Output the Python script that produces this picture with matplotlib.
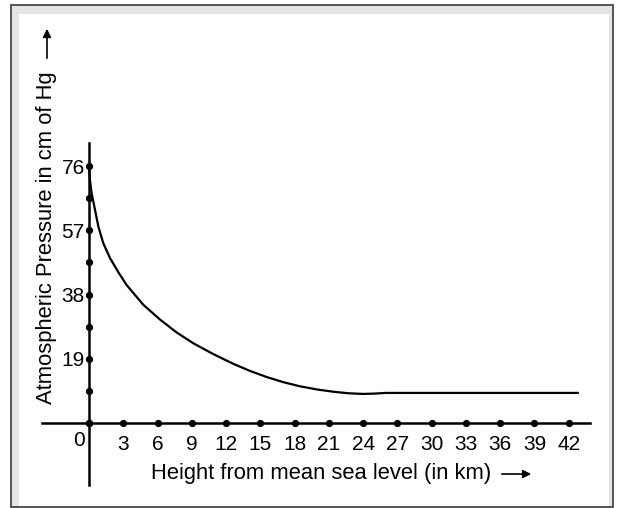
import matplotlib
matplotlib.use('Agg')
import matplotlib.pyplot as plt
from matplotlib.patches import Rectangle

# ---------------- data ----------------
height_km = [0, 0.08, 0.23, 0.53, 0.82, 1.25, 1.84, 2.57, 3.30, 4.75, 6.22,
             7.67, 9.13, 10.6, 11.18, 12.64, 14.1, 15.56, 17.0, 18.48, 20.0,
             21.4, 22.7, 24.0, 25.0, 26.0, 30.0, 36.0, 42.8]
pressure_cm = [76, 72, 68, 63, 58.1, 53.2, 48.8, 44.6, 40.8, 35.0, 30.6,
               26.8, 23.6, 20.9, 19.9, 17.5, 15.4, 13.6, 12.1, 10.85, 9.9,
               9.25, 8.8, 8.6, 8.7, 8.9, 8.9, 8.9, 8.9]

x_ticks = [3, 6, 9, 12, 15, 18, 21, 24, 27, 30, 33, 36, 39, 42]
y_ticks = [19, 38, 57, 76]
y_dots = [0, 9.5, 19, 28.5, 38, 47.5, 57, 66.5, 76]
x_dots = [0] + x_ticks

W, H = 619, 508
plt.rcParams['font.family'] = ['Liberation Sans', 'DejaVu Sans']

def fpx(x, y):
    # pixel position -> figure fraction
    return x / W, 1 - y / H

fig = plt.figure(figsize=(W / 100, H / 100), dpi=100)

# outer frame with the light grey band
fig.patches.append(Rectangle(fpx(11, 507), 602 / W, 502 / H, transform=fig.transFigure,
                             facecolor='#e4e4e4', edgecolor='#3a3a3a', linewidth=1.2,
                             zorder=-2))
fig.patches.append(Rectangle(fpx(19, 506), 590 / W, 492 / H, transform=fig.transFigure,
                             facecolor='white', edgecolor='none', zorder=-1))

ax = fig.add_axes([0, 0, 1, 1])
ax.patch.set_alpha(0)
sx, sy = 11.42, 3.38   # pixels per unit
ax.set_xlim(-89 / sx, (W - 89) / sx)
ax.set_ylim((423 - H) / sy, 423 / sy)

for s in ['top', 'right']:
    ax.spines[s].set_visible(False)
ax.spines['left'].set_position(('data', 0))
ax.spines['bottom'].set_position(('data', 0))
ax.spines['left'].set_bounds((423 - 485) / sy, (423 - 143) / sy)
ax.spines['bottom'].set_bounds((42 - 89) / sx, (590 - 89) / sx)
ax.spines['left'].set_linewidth(1.8)
ax.spines['bottom'].set_linewidth(1.8)

ax.set_xticks(x_ticks)
ax.set_xticklabels([str(v) for v in x_ticks])
ax.set_yticks(y_ticks)
ax.set_yticklabels([str(v) for v in y_ticks])
ax.tick_params(axis='x', length=0, pad=9, labelsize=15)
ax.tick_params(axis='y', length=0, pad=3, labelsize=15)
ax.text(-0.9, (423 - 440) / sy, '0', fontsize=15, ha='center', va='center')

# dots on the axes
ax.plot(x_dots, [0] * len(x_dots), 'o', color='black', ms=4.2, clip_on=False)
ax.plot([0] * len(y_dots), y_dots, 'o', color='black', ms=4.2, clip_on=False)

# pressure curve
ax.plot(height_km, pressure_cm, color='black', lw=1.6, solid_joinstyle='round')

# axis titles with arrows
fig.text(*fpx(321, 474), 'Height from mean sea level (in km)', fontsize=15.8,
         ha='center', va='center')
ax.annotate('', xy=fpx(534, 474), xytext=fpx(499, 474), xycoords='figure fraction',
            textcoords='figure fraction',
            arrowprops=dict(arrowstyle='-|>', color='black', lw=1.2, mutation_scale=12))
fig.text(*fpx(47, 238), 'Atmospheric Pressure in cm of Hg', fontsize=15.8,
         ha='center', va='center', rotation=90)
ax.annotate('', xy=fpx(47, 26), xytext=fpx(47, 61), xycoords='figure fraction',
            textcoords='figure fraction',
            arrowprops=dict(arrowstyle='-|>', color='black', lw=1.2, mutation_scale=12))

fig.savefig('out.png', dpi=100)
